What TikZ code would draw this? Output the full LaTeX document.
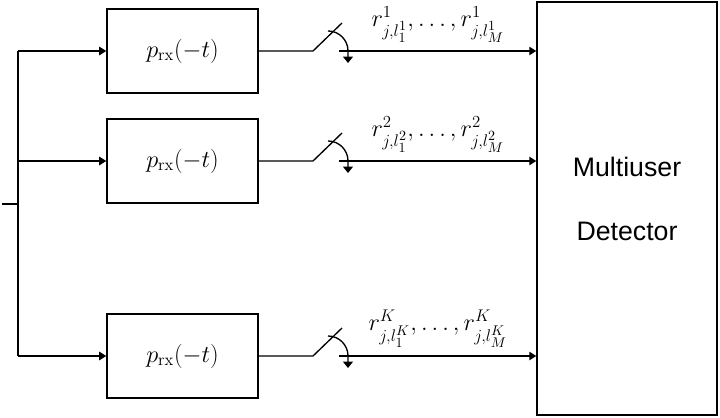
\documentclass[tikz,border=0pt]{standalone}
\usepackage{amsmath}
\usepackage{fontspec}
\newfontfamily\detfont{Liberation Sans}
\usetikzlibrary{positioning,arrows.meta,calc}
\tikzset{
  x=0.025cm, y=0.025cm,
  filt/.style ={draw, line width=1pt, minimum width=3.775cm,
                minimum height=2.1cm, inner sep=0pt, font=\LARGE},
  mud/.style  ={draw, line width=1pt, minimum width=4.5cm,
                minimum height=10.325cm, inner sep=0pt},
  wire/.style ={line width=0.95pt},
  % signal arrow into a block
  sig/.style  ={wire, -{Triangle[length=5pt,width=6pt]}},
  % sampling switch rotation
  rotarr/.style={line width=0.95pt, -{Triangle[length=4.5pt,width=7pt]}},
  lbl/.style  ={inner sep=0pt, font=\LARGE, anchor=south},
}
% branch name / y position / superscript
\def\branchlist{1/-51/1, 2/-161/2, 3/-356/K}

\begin{document}
\begin{tikzpicture}
\useasboundingbox (0,0) rectangle (720,-418);
\node[mud] (det) at (627,-208.5) {};
\node[font=\detfont\fontsize{19}{46}\selectfont, align=center]
  (detlbl) at (627,-199) {Multiuser\\Detector};
\coordinate (in) at (2,-204);
\coordinate (tr) at (18,-204);
\draw[wire] (in) -- (tr);
\foreach \n/\y/\k in \branchlist {
  \node[filt] (f\n) at (182.5,\y) {$p_{\mathrm{rx}}(-t)$};
  \coordinate (tap\n) at (18,\y);
  \coordinate (swa\n) at (313,\y);
  \coordinate (swb\n) at (342,\y+28);
  \coordinate (swc\n) at (339,\y);
  \coordinate (arc\n) at (328,\y+20);
  \draw[sig] (tap\n) -- (f\n.west);
  \draw[wire] (f\n.east) -- (swa\n) -- (swb\n);
  \draw[sig] (swc\n) -- (det.west |- swc\n);
  \draw[rotarr] (arc\n) arc[start angle=90, end angle=0, radius=0.5cm] -- ++(0,-0.3cm);
  \node[lbl] (r\n) at (438,\y+8)
    {$r^{\k}_{j,l_1^{\k}},\ldots,r^{\k}_{j,l_M^{\k}}$};
}
\draw[wire] (tap1) -- (tap3);
\end{tikzpicture}
\end{document}
